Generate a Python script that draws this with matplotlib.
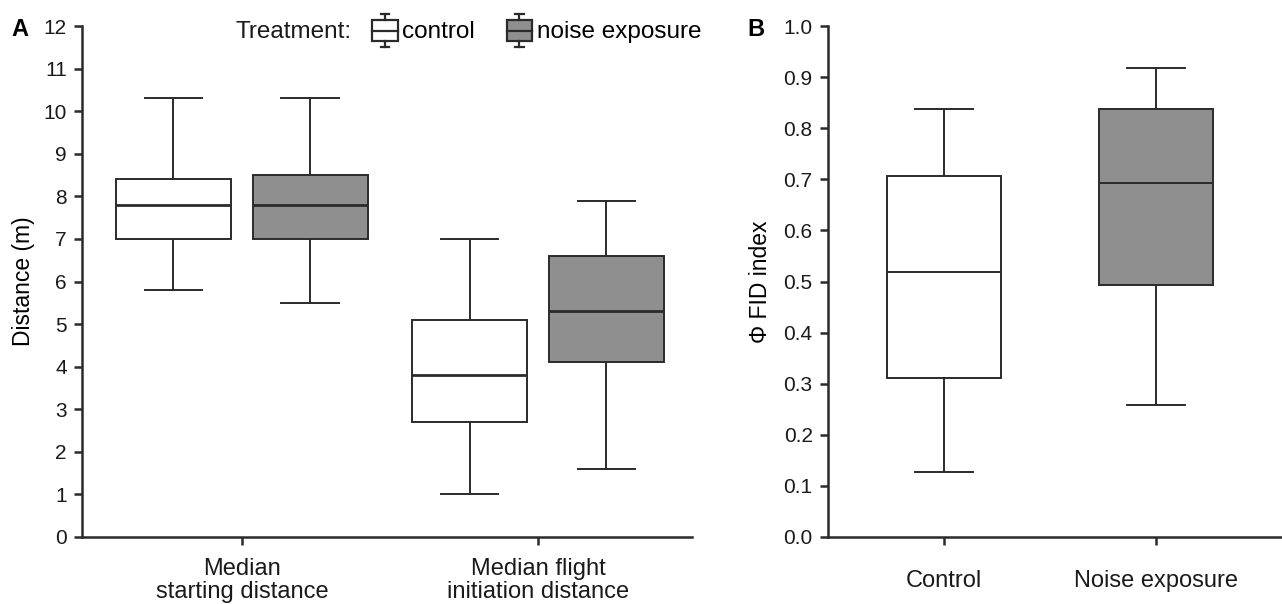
import matplotlib
matplotlib.use("Agg")
import matplotlib.pyplot as plt
from matplotlib.legend_handler import HandlerBase
from matplotlib.patches import Rectangle, Patch
from matplotlib.lines import Line2D

plt.rcParams['font.family'] = ['Liberation Sans', 'DejaVu Sans']

# ---------------- data ----------------
groups_a = ["Median\nstarting distance", "Median flight\ninitiation distance"]
treatments = ["control", "noise exposure"]
# [whislo, q1, med, q3, whishi]
control_a = [[5.8, 7.0, 7.8, 8.4, 10.3], [1.0, 2.7, 3.8, 5.1, 7.0]]
noise_a = [[5.5, 7.0, 7.8, 8.5, 10.3], [1.6, 4.1, 5.3, 6.6, 7.9]]
groups_b = ["Control", "Noise exposure"]
stats_b = [[0.127, 0.311, 0.518, 0.707, 0.838], [0.259, 0.494, 0.692, 0.838, 0.917]]
yticks_a = list(range(0, 13))
yticks_b = [round(0.1 * i, 1) for i in range(11)]

LC = "#2b2b2b"
GRAY = "#8f8f8f"
LW = 1.4
FS_TICK = 15
FS_CAT = 17
FS_LAB = 16.5
FS_LEG = 17.5


def to_stats(vals):
    lo, q1, med, q3, hi = vals
    return dict(whislo=lo, q1=q1, med=med, q3=q3, whishi=hi, fliers=[])


def draw(ax, stats, positions, width, colors, capw, medlw):
    bp = ax.bxp([to_stats(s) for s in stats], positions=positions, widths=width,
                patch_artist=True, showfliers=False, capwidths=capw,
                boxprops=dict(edgecolor=LC, linewidth=LW),
                whiskerprops=dict(color=LC, linewidth=LW),
                capprops=dict(color=LC, linewidth=LW),
                medianprops=dict(color=LC, linewidth=medlw))
    for p, c in zip(bp['boxes'], colors):
        p.set_facecolor(c)
    return bp


def style(ax):
    for s in ['top', 'right']:
        ax.spines[s].set_visible(False)
    for s in ['left', 'bottom']:
        ax.spines[s].set_linewidth(1.8)
        ax.spines[s].set_color(LC)
    ax.tick_params(axis='both', colors=LC, width=1.8, length=6, labelcolor='#1a1a1a')
    ax.tick_params(axis='y', labelsize=FS_TICK, pad=5)
    ax.tick_params(axis='x', labelsize=FS_CAT, pad=9)


fig = plt.figure(figsize=(12.82, 6.04), dpi=100)

# ---------------- panel A ----------------
axA = fig.add_axes([82 / 1282, 1 - 537 / 604, (692 - 82) / 1282, (537 - 26) / 604])
off = 0.231
bw = 0.39
for i in range(2):
    draw(axA, [control_a[i], noise_a[i]], [i - off, i + off], bw, ["white", GRAY],
         bw * 0.5, 2.0)
axA.set_xlim(-0.54, 1.52)
axA.set_ylim(0, 12)
axA.set_yticks(yticks_a)
axA.set_xticks([0, 1])
axA.set_xticklabels(groups_a, linespacing=1.05)
axA.set_ylabel("Distance (m)", fontsize=FS_LAB, labelpad=6)
style(axA)


class BoxHandler(HandlerBase):
    def create_artists(self, legend, orig_handle, xdescent, ydescent, width, height,
                       fontsize, trans):
        fc = orig_handle.get_facecolor()
        x0, y0 = -xdescent, -ydescent
        cx = x0 + width / 2
        bh = height * 0.64
        by = y0 + (height - bh) / 2
        lw = 1.6
        cw = width / 6
        arts = [Rectangle((x0, by), width, bh, facecolor=fc, edgecolor=LC, lw=lw,
                          transform=trans),
                Line2D([x0, x0 + width], [by + bh / 2] * 2, color=LC, lw=lw, transform=trans),
                Line2D([cx, cx], [by + bh, y0 + height], color=LC, lw=lw, transform=trans),
                Line2D([cx, cx], [y0, by], color=LC, lw=lw, transform=trans),
                Line2D([cx - cw, cx + cw], [y0 + height] * 2, color=LC,
                       lw=lw, transform=trans),
                Line2D([cx - cw, cx + cw], [y0] * 2, color=LC, lw=lw,
                       transform=trans)]
        return arts


handles = [Patch(facecolor="white"), Patch(facecolor=GRAY)]
leg = fig.legend(handles, treatments, handler_map={Patch: BoxHandler()},
                 loc='upper left', bbox_to_anchor=(372 / 1282, 1 - 14 / 604), ncol=2,
                 frameon=False, fontsize=FS_LEG, handlelength=1.05, handleheight=1.72,
                 handletextpad=0.2, columnspacing=1.3, borderaxespad=0, borderpad=0)
fig.text(236 / 1282, 1 - 32 / 604, "Treatment:", fontsize=FS_LEG, va='center', ha='left',
         color='#1a1a1a')

fig.text(11 / 1282, 1 - 29 / 604, "A", fontsize=17, fontweight='bold', va='center')

# ---------------- panel B ----------------
axB = fig.add_axes([828 / 1282, 1 - 537 / 604, (1281 - 828) / 1282, (537 - 26) / 604])
draw(axB, stats_b, [0, 1], 0.54, ["white", GRAY], 0.54 * 0.5, 1.4)
axB.set_xlim(-0.547, 1.59)
axB.set_ylim(0, 1.0)
axB.set_yticks(yticks_b)
axB.set_yticklabels([f"{v:.1f}" for v in yticks_b])
axB.set_xticks([0, 1])
axB.set_xticklabels(groups_b)
axB.set_ylabel("Φ FID index", fontsize=FS_LAB, labelpad=8)
style(axB)
axB.tick_params(axis='x', pad=18)

fig.text(747 / 1282, 1 - 29 / 604, "B", fontsize=17, fontweight='bold', va='center')

fig.savefig("out.png", dpi=100)
